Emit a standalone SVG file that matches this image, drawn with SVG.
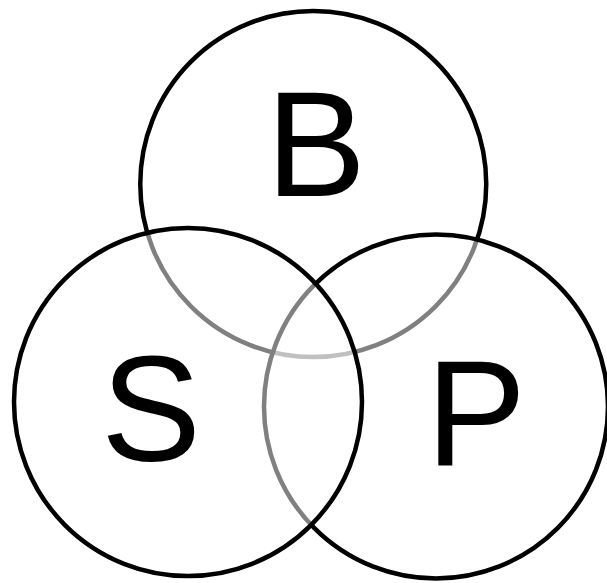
<svg xmlns="http://www.w3.org/2000/svg" width="607" height="583" viewBox="0 0 607 583">
<style>
.c{fill:#fff;fill-opacity:0.5;stroke:#000;stroke-width:4.5}
.t{font-family:"Liberation Sans",Arial,sans-serif;font-size:150px;fill:#000;text-anchor:middle}
</style>
<rect width="607" height="583" fill="#fff"/>
<g id="nodeB"><circle class="c" cx="313.25" cy="184" r="173"/></g>
<g id="nodeP"><circle class="c" cx="436" cy="406.5" r="172"/></g>
<g id="nodeS"><circle class="c" cx="188" cy="402" r="174"/></g>
<g id="connectors"></g>
<g id="labels">
<text class="t" x="316" y="196">B</text>
<text class="t" x="151" y="461">S</text>
<text class="t" x="476" y="465">P</text>
</g>
</svg>
